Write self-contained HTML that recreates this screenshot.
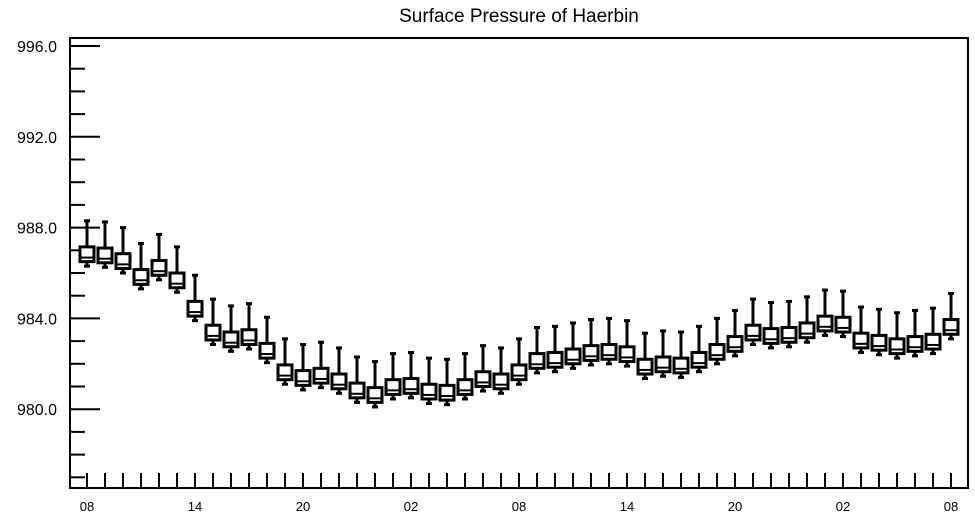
<!DOCTYPE html>
<html><head><meta charset="utf-8"><style>
html,body{margin:0;padding:0;background:#fff;}
svg{display:block;font-family:"Liberation Sans",Arial,sans-serif;}
</style></head><body>
<svg id="chart" width="975" height="518" viewBox="0 0 975 518">
<text x="519" y="22" font-size="19" text-anchor="middle">Surface Pressure of Haerbin</text>
<rect x="70" y="38" width="898" height="450" fill="none" stroke="#000" stroke-width="2"/>
<g id="axes"></g><g id="boxes"></g>
</svg>
<script>
const xTickLabels=["08","14","20","02","08","14","20","02","08"];
const yTickLabels=["980.0","984.0","988.0","992.0","996.0"];
const yTickValues=[980,984,988,992,996];
const hi=[988.3,988.25,988.0,987.3,987.7,987.15,985.9,984.85,984.55,984.65,984.05,983.1,982.85,982.95,982.7,982.3,982.1,982.45,982.5,982.25,982.2,982.45,982.8,982.7,983.1,983.6,983.65,983.8,983.95,984.0,983.9,983.35,983.45,983.4,983.65,984.0,984.35,984.85,984.7,984.75,984.95,985.25,985.2,984.5,984.4,984.25,984.35,984.45,985.1];
const q3=[987.15,987.1,986.85,986.15,986.55,986.0,984.75,983.7,983.4,983.5,982.9,981.95,981.7,981.8,981.55,981.15,980.95,981.3,981.35,981.1,981.05,981.3,981.65,981.55,981.95,982.45,982.5,982.65,982.8,982.85,982.75,982.2,982.3,982.25,982.5,982.85,983.2,983.7,983.55,983.6,983.8,984.1,984.05,983.35,983.25,983.1,983.2,983.3,983.95];
const med=[986.68,986.63,986.38,985.68,986.08,985.53,984.28,983.23,982.93,983.03,982.43,981.48,981.23,981.33,981.08,980.68,980.48,980.83,980.88,980.63,980.58,980.83,981.18,981.08,981.48,981.98,982.03,982.18,982.33,982.38,982.28,981.73,981.83,981.78,982.03,982.38,982.73,983.23,983.08,983.13,983.33,983.63,983.58,982.88,982.78,982.63,982.73,982.83,983.48];
const q1=[986.5,986.45,986.2,985.5,985.9,985.35,984.1,983.05,982.75,982.85,982.25,981.3,981.05,981.15,980.9,980.5,980.3,980.65,980.7,980.45,980.4,980.65,981.0,980.9,981.3,981.8,981.85,982.0,982.15,982.2,982.1,981.55,981.65,981.6,981.85,982.2,982.55,983.05,982.9,982.95,983.15,983.45,983.4,982.7,982.6,982.45,982.55,982.65,983.3];
const lo=[986.3,986.25,986.0,985.3,985.7,985.15,983.9,982.85,982.55,982.65,982.05,981.1,980.85,980.95,980.7,980.3,980.1,980.45,980.5,980.25,980.2,980.45,980.8,980.7,981.1,981.6,981.65,981.8,981.95,982.0,981.9,981.35,981.45,981.4,981.65,982.0,982.35,982.85,982.7,982.75,982.95,983.25,983.2,982.5,982.4,982.25,982.35,982.45,983.1];
const NS="http://www.w3.org/2000/svg";
function yS(v){return 46+(996-v)*22.7;}
function xS(i){return 87+18*i;}
function mk(tag,attrs,parent){const e=document.createElementNS(NS,tag);for(const k in attrs)e.setAttribute(k,attrs[k]);parent.appendChild(e);return e;}
const ax=document.getElementById('axes');
for(let v=977;v<=996;v++){
  const major=yTickValues.includes(v);
  const t=mk('line',{x1:70,x2:major?100:85,y1:yS(v),y2:yS(v),stroke:'#000','stroke-width':2},ax);
  
  
}
yTickValues.forEach((v,k)=>{
  const t=mk('text',{x:57,y:yS(v)+6,'font-size':16,'text-anchor':'end'},ax);
  t.textContent=yTickLabels[k];
  
  
});
for(let i=0;i<hi.length;i++){
  const t=mk('line',{x1:xS(i),x2:xS(i),y1:488,y2:473,stroke:'#000','stroke-width':2},ax);
  
  
}
xTickLabels.forEach((s,k)=>{
  const t=mk('text',{x:xS(k*6),y:511,'font-size':13,'text-anchor':'middle'},ax);
  t.textContent=s;
  
  
});
const bx=document.getElementById('boxes');
for(let i=0;i<hi.length;i++){
  const g=mk('g',{},bx);
  
  
  const x=xS(i);
  mk('line',{x1:x,x2:x,y1:yS(hi[i]),y2:yS(q3[i]),stroke:'#000','stroke-width':3},g);
  mk('line',{x1:x-3,x2:x+3,y1:yS(hi[i]),y2:yS(hi[i]),stroke:'#000','stroke-width':3},g);
  mk('line',{x1:x,x2:x,y1:yS(q1[i]),y2:yS(lo[i]),stroke:'#000','stroke-width':3},g);
  mk('line',{x1:x-3,x2:x+3,y1:yS(lo[i]),y2:yS(lo[i]),stroke:'#000','stroke-width':3},g);
  mk('rect',{x:x-7,y:yS(q3[i]),width:14,height:yS(q1[i])-yS(q3[i]),fill:'#fff',stroke:'#000','stroke-width':3},g);
  mk('line',{x1:x-7,x2:x+7,y1:yS(med[i]),y2:yS(med[i]),stroke:'#000','stroke-width':2},g);
}
</script>
</body></html>
